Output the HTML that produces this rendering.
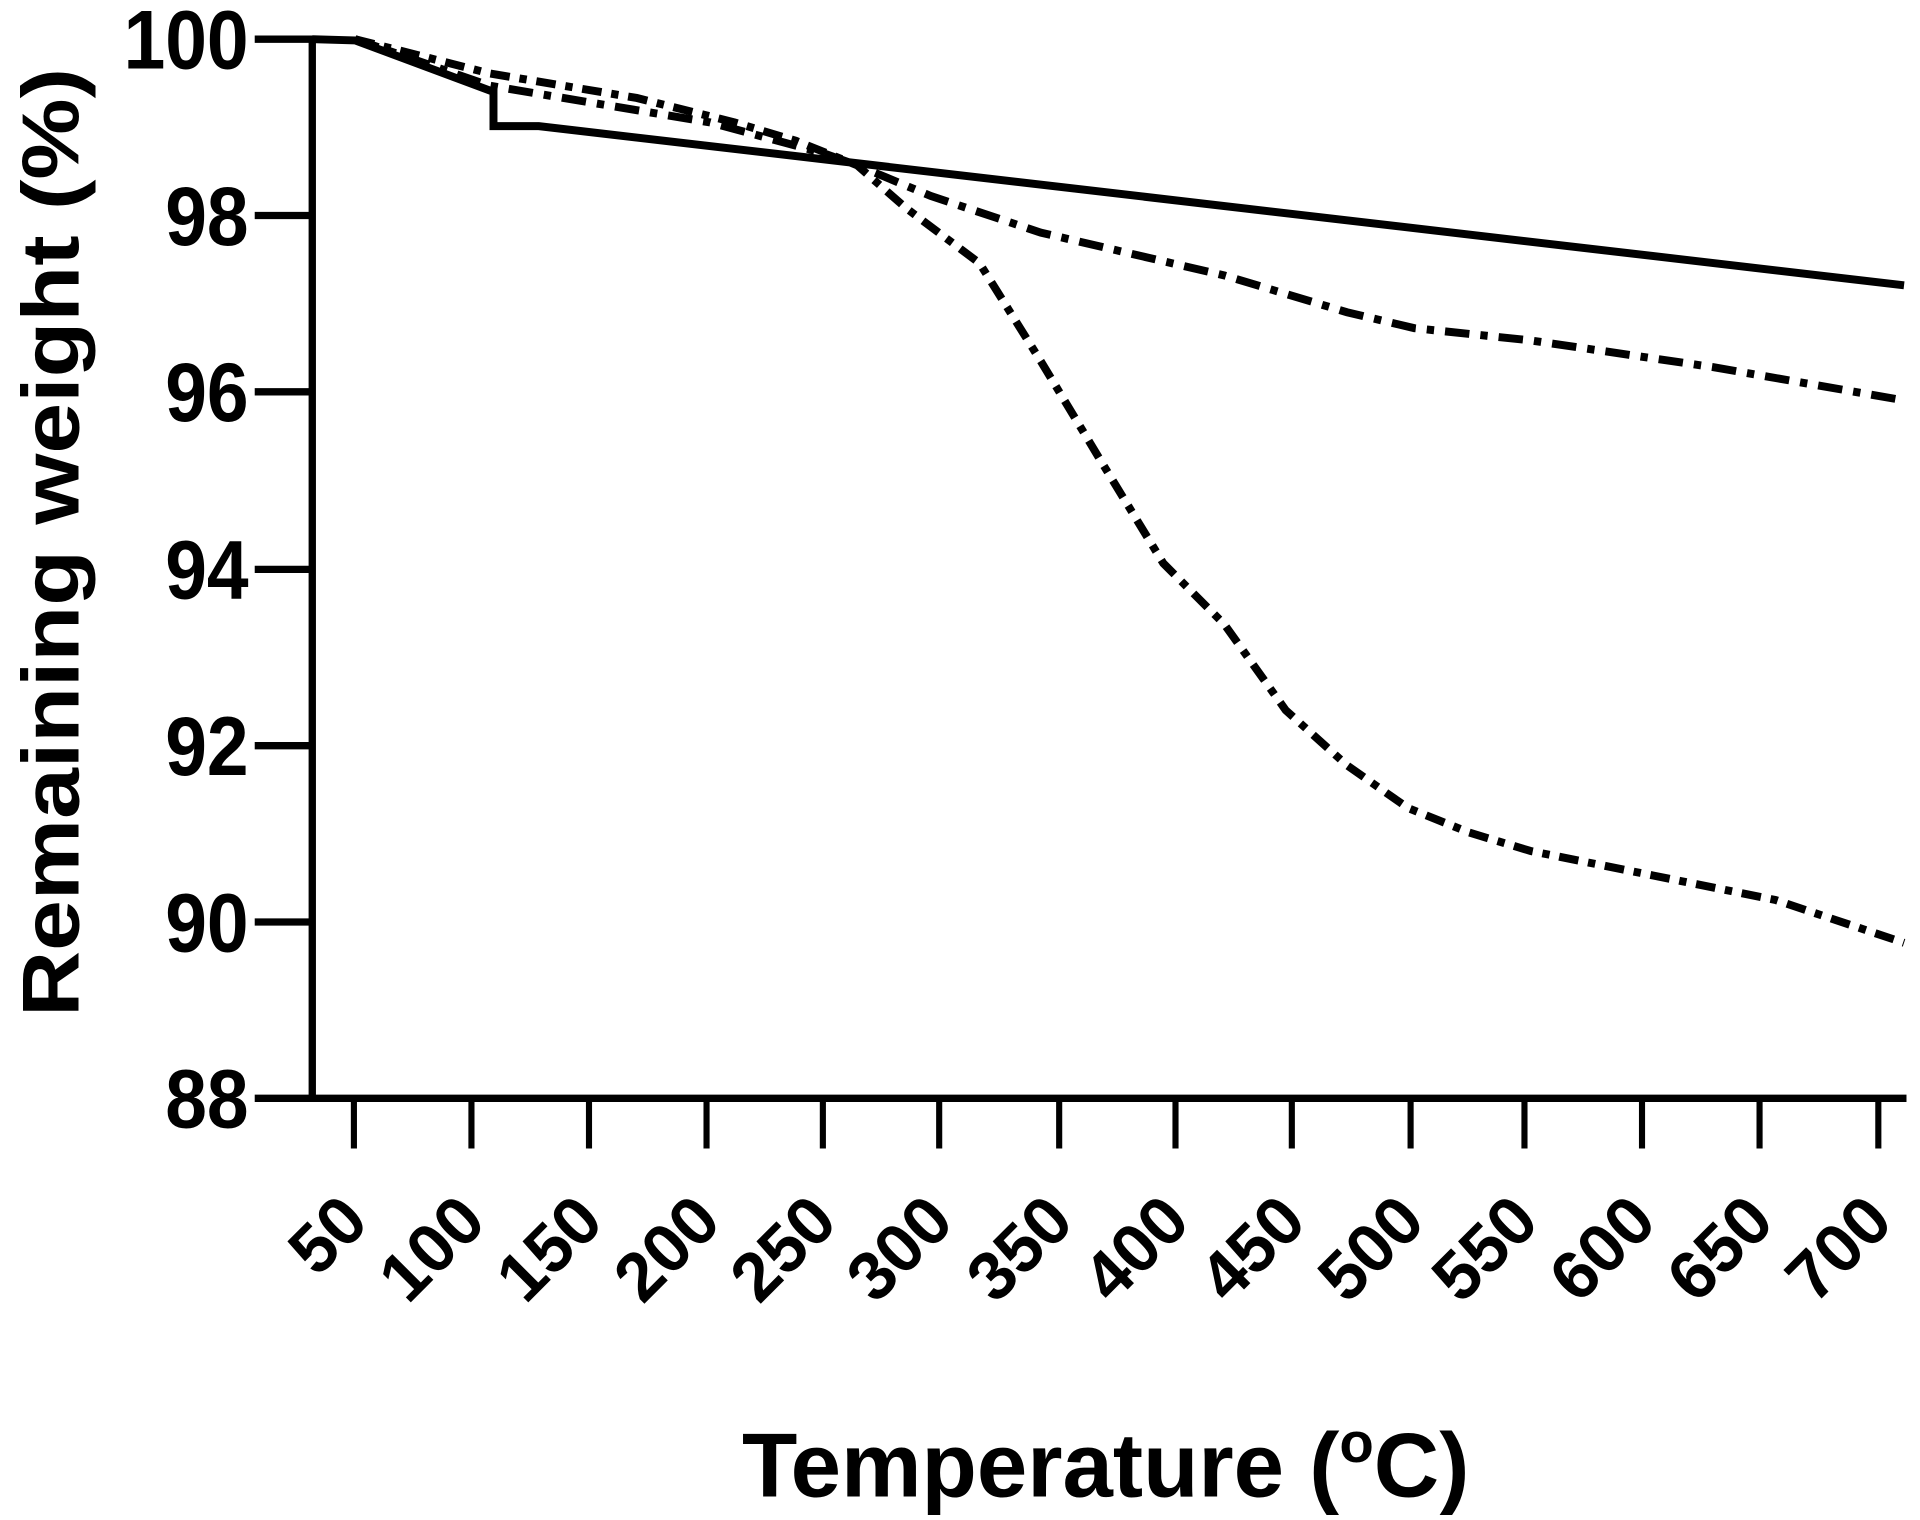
<!DOCTYPE html>
<html><head><style>html,body{margin:0;padding:0;background:#fff}</style></head>
<body>
<svg width="1920" height="1515" viewBox="0 0 1568 1237.3" xmlns="http://www.w3.org/2000/svg" font-family="Liberation Sans, sans-serif" font-weight="bold">
<rect width="1568" height="1238" fill="#fff"/>
<g stroke="#000" stroke-width="6" fill="none">
<line x1="255" y1="29" x2="255" y2="900"/>
<line x1="208" y1="897" x2="1557" y2="897"/>
<line x1="208" y1="32" x2="255" y2="32"/>
<line x1="208" y1="176" x2="255" y2="176"/>
<line x1="208" y1="320" x2="255" y2="320"/>
<line x1="208" y1="465" x2="255" y2="465"/>
<line x1="208" y1="609" x2="255" y2="609"/>
<line x1="208" y1="753" x2="255" y2="753"/>
<g stroke-width="5">
<line x1="289" y1="897" x2="289" y2="938"/><line x1="385" y1="897" x2="385" y2="938"/>
<line x1="481" y1="897" x2="481" y2="938"/><line x1="577" y1="897" x2="577" y2="938"/>
<line x1="672" y1="897" x2="672" y2="938"/><line x1="767" y1="897" x2="767" y2="938"/>
<line x1="865" y1="897" x2="865" y2="938"/><line x1="960" y1="897" x2="960" y2="938"/>
<line x1="1055" y1="897" x2="1055" y2="938"/><line x1="1152" y1="897" x2="1152" y2="938"/>
<line x1="1245" y1="897" x2="1245" y2="938"/><line x1="1341" y1="897" x2="1341" y2="938"/>
<line x1="1437" y1="897" x2="1437" y2="938"/><line x1="1534" y1="897" x2="1534" y2="938"/>
</g>
<polyline stroke-width="6.5" points="255,32 290,33 403,75 403,103 440,103 1555,233"/>
<polyline stroke-width="6.5" stroke-dasharray="20,9,6,9" points="290,32 400,70 580,100 672,125 700,135 760,160 850,190 1000,225 1100,255 1155,268 1250,278 1400,300 1555,327"/>
<polyline stroke-width="6.5" stroke-dasharray="16,8,6,8" points="290,32 400,60 520,80 600,100 650,115 700,135 740,170 800,215 850,295 900,378 950,460 1000,510 1050,580 1100,625 1150,660 1200,680 1250,695 1350,715 1450,735 1555,770"/>
</g>
<g font-size="68" text-anchor="end" transform="translate(203,0) scale(0.9,1)">
<text x="0" y="56">100</text><text x="0" y="200">98</text><text x="0" y="344">96</text>
<text x="0" y="489">94</text><text x="0" y="633">92</text><text x="0" y="777">90</text>
<text x="0" y="921">88</text>
</g>
<g font-size="56" text-anchor="end">
<text transform="translate(303,1000) rotate(-45)">50</text>
<text transform="translate(399,1000) rotate(-45)">100</text>
<text transform="translate(495,1000) rotate(-45)">150</text>
<text transform="translate(591,1000) rotate(-45)">200</text>
<text transform="translate(686,1000) rotate(-45)">250</text>
<text transform="translate(781,1000) rotate(-45)">300</text>
<text transform="translate(879,1000) rotate(-45)">350</text>
<text transform="translate(974,1000) rotate(-45)">400</text>
<text transform="translate(1069,1000) rotate(-45)">450</text>
<text transform="translate(1166,1000) rotate(-45)">500</text>
<text transform="translate(1259,1000) rotate(-45)">550</text>
<text transform="translate(1355,1000) rotate(-45)">600</text>
<text transform="translate(1451,1000) rotate(-45)">650</text>
<text transform="translate(1548,1000) rotate(-45)">700</text>
</g>
<text transform="translate(64,443) rotate(-90)" font-size="66" text-anchor="middle" textLength="775" lengthAdjust="spacingAndGlyphs">Remaining weight (%)</text>
<text x="903" y="1222" font-size="74" text-anchor="middle">Temperature (<tspan font-size="46" dy="-28">o</tspan><tspan dy="28">C)</tspan></text>
</svg>
</body></html>
